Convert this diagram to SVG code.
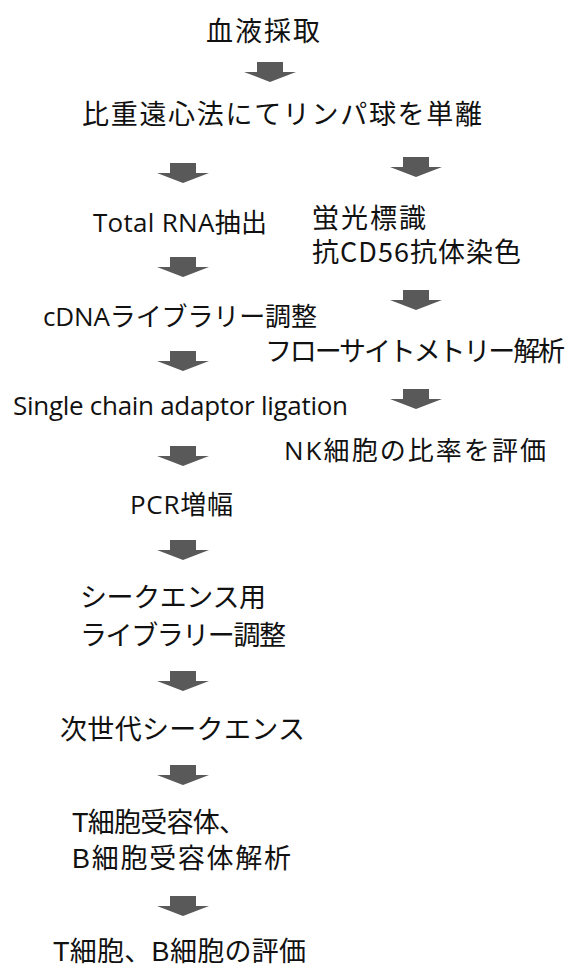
<svg xmlns="http://www.w3.org/2000/svg" width="567" height="967" viewBox="0 0 567 967">
  <style>
    .jp { font-family: "Noto Sans CJK JP", "Noto Sans CJK SC", sans-serif; font-size: 27px; fill: #111; }
    .lat { font-family: "Open Sans", "Noto Sans CJK JP", sans-serif; font-size: 26px; fill: #111; }
    .ar { font-family: "Liberation Sans", "Noto Sans CJK JP", sans-serif; font-size: 27px; fill: #111; }
    .arrow { fill: #595959; }
  </style>
  <defs>
    <!-- block arrow, origin at top centre of the shaft -->
    <path id="blk" class="arrow" d="M-13,0 H13 V10 H26 L0,20 L-26,10 H-13 Z"/>
  </defs>
  <rect width="567" height="967" fill="#fff"/>

  <g id="connectors">
    <use href="#blk" x="270" y="62"/>
    <use href="#blk" x="183" y="163"/>
    <use href="#blk" x="183" y="257"/>
    <use href="#blk" x="183" y="351"/>
    <use href="#blk" x="183" y="446"/>
    <use href="#blk" x="183" y="540"/>
    <use href="#blk" x="183" y="671"/>
    <use href="#blk" x="183" y="765"/>
    <use href="#blk" x="183" y="896"/>
    <use href="#blk" x="416" y="157"/>
    <use href="#blk" x="416" y="290"/>
    <use href="#blk" x="416" y="389"/>
  </g>

  <g id="n-blood"><text class="jp" x="206" y="41" textLength="114">血液採取</text></g>
  <g id="n-separation"><text class="jp" x="82" y="124" textLength="400">比重遠心法にてリンパ球を単離</text></g>

  <g id="n-rna"><text class="lat" x="93" y="232" textLength="174">Total RNA抽出</text></g>
  <g id="n-stain">
    <text class="jp"><tspan x="312" y="228" textLength="114">蛍光標識</tspan><tspan x="312" y="262" textLength="209">抗CD56抗体染色</tspan></text>
  </g>
  <g id="n-cdna"><text class="lat" x="43" y="326" textLength="274">cDNAライブラリー調整</text></g>
  <g id="n-flow"><text class="jp" x="265" y="361" textLength="300">フローサイトメトリー解析</text></g>
  <g id="n-ligation"><text class="lat" x="13" y="415" textLength="335">Single chain adaptor ligation</text></g>
  <g id="n-nk"><text class="lat" x="284" y="460" textLength="262">NK細胞の比率を評価</text></g>
  <g id="n-pcr"><text class="lat" x="130" y="514" textLength="103">PCR増幅</text></g>
  <g id="n-seqlib">
    <text class="jp" x="80" y="607" textLength="186">シークエンス用</text>
    <text class="jp" x="80" y="645" textLength="206">ライブラリー調整</text>
  </g>
  <g id="n-ngs"><text class="jp" x="60" y="739" textLength="245">次世代シークエンス</text></g>
  <g id="n-receptor">
    <text class="ar" x="72" y="832" textLength="174">T細胞受容体、</text>
    <text class="ar" x="72" y="868" textLength="219">B細胞受容体解析</text>
  </g>
  <g id="n-eval"><text class="ar" x="53" y="961" textLength="253">T細胞、B細胞の評価</text></g>
</svg>
